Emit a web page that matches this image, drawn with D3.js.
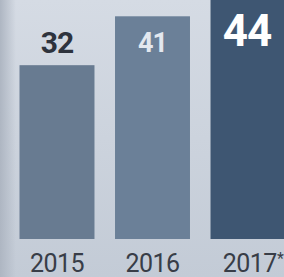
<!DOCTYPE html>
<html>
<head>
<meta charset="utf-8">
<script src="https://cdn.jsdelivr.net/npm/d3@7"></script>
<style>
  body { margin: 0; overflow: hidden; }
  svg { display: block; }
</style>
</head>
<body>
<svg></svg>
<script>
var width = 284, height = 277;

// data
var years = ["2015", "2016", "2017*"];
var values = [32, 41, 44];
var barColors = ["#687b91", "#6b8098", "#3e5672"];
var labelColors = ["#2e333d", "#e3e8ef", "#ffffff"];
var labelSizes = [30, 27, 44];

var svg = d3.select("svg")
    .attr("width", width)
    .attr("height", height);

// background
var defs = svg.append("defs");
var bg = defs.append("linearGradient")
    .attr("id", "bg").attr("x1", 0).attr("y1", 0).attr("x2", 0).attr("y2", 1);
bg.append("stop").attr("offset", 0).attr("stop-color", "#d5dbe4");
bg.append("stop").attr("offset", 1).attr("stop-color", "#c3cbd6");
var edge = defs.append("linearGradient")
    .attr("id", "edge").attr("x1", 0).attr("y1", 0).attr("x2", 1).attr("y2", 0);
edge.append("stop").attr("offset", 0).attr("stop-color", "#aeb6c2");
edge.append("stop").attr("offset", 1).attr("stop-color", "#aeb6c2").attr("stop-opacity", 0);

svg.append("rect").attr("width", width).attr("height", height).attr("fill", "url(#bg)");
svg.append("rect").attr("width", 16).attr("height", height).attr("fill", "url(#edge)");

var baseline = 239;

var x = d3.scaleBand()
    .domain(years)
    .range([19.5, 285.5])
    .paddingInner(0.215)
    .paddingOuter(0);

var y = d3.scaleLinear()
    .domain([0, 44])
    .range([baseline, 0]);

var g = svg.append("g");

g.selectAll("rect.bar")
    .data(values)
    .join("rect")
    .attr("class", "bar")
    .attr("x", (d, i) => x(years[i]))
    .attr("y", d => y(d))
    .attr("width", x.bandwidth())
    .attr("height", d => baseline - y(d))
    .attr("fill", (d, i) => barColors[i]);

// value labels: first sits above the bar, others inside
var labelY = [53, 52, 46];
g.selectAll("text.val")
    .data(values)
    .join("text")
    .attr("class", "val")
    .attr("x", (d, i) => x(years[i]) + x.bandwidth() / 2 + (i == 2 ? -1 : 0))
    .attr("y", (d, i) => labelY[i])
    .attr("text-anchor", "middle")
    .style("font-family", "Roboto, 'Open Sans', sans-serif")
    .style("font-weight", "bold")
    .style("font-size", (d, i) => labelSizes[i] + "px")
    .style("letter-spacing", "-1px")
    .attr("fill", (d, i) => labelColors[i])
    .text(d => d);

// year labels
var xAxis = d3.axisBottom(x).tickSize(0).tickPadding(0);
var ax = svg.append("g")
    .attr("transform", "translate(0," + baseline + ")")
    .call(xAxis);
ax.select(".domain").remove();
ax.selectAll("text")
    .attr("y", 33)
    .attr("dy", 0)
    .style("font-family", "Roboto, 'Open Sans', sans-serif")
    .style("font-size", "25px")
    .style("letter-spacing", "-0.5px")
    .attr("fill", "#383d47")
    .each(function(d) {
        var t = d3.select(this);
        if (d.indexOf("*") >= 0) {
            t.text("2017");
            t.append("tspan").attr("font-size", "16px").attr("dy", -8).text("*");
            t.attr("dx", 5);
        }
    });
</script>
</body>
</html>
